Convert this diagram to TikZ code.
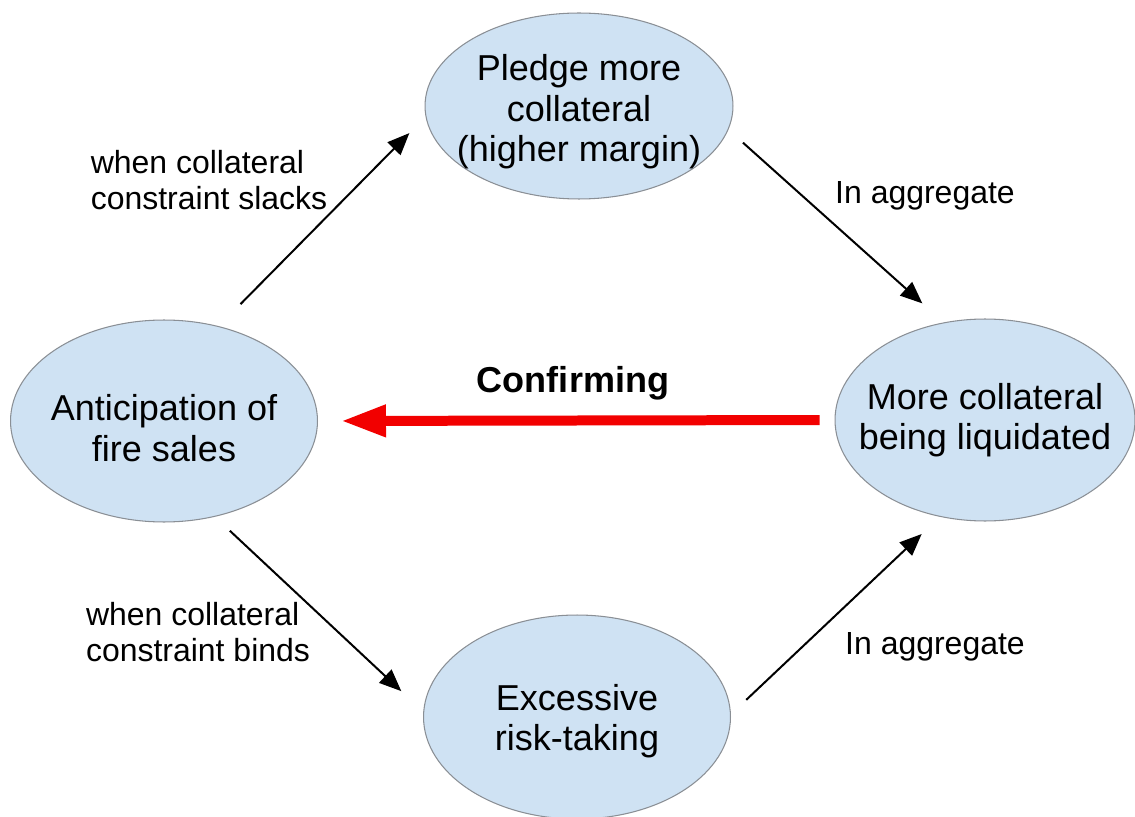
\documentclass[tikz,border=0pt]{standalone}
\usepackage{fontspec}
\setmainfont{Liberation Sans}
\usetikzlibrary{arrows.meta,shapes.geometric}
\definecolor{blobfill}{HTML}{CFE2F3}
\definecolor{blobline}{HTML}{8A8F95}
\definecolor{confred}{HTML}{F20000}

\begin{document}
\begin{tikzpicture}[x=0.02cm, y=-0.02cm,
    blob/.style={ellipse, draw=blobline, fill=blobfill, line width=0.6pt, inner sep=0pt},
    big/.style={font=\fontsize{20.5}{23}\selectfont, align=center},
    small/.style={font=\fontsize{18.2}{20.8}\selectfont, align=left},
    link/.style={-{Triangle[length=0.44cm, width=0.36cm]}, line width=0.04cm},
    conf/.style={-{Triangle[length=0.9cm, width=0.6cm]}, line width=0.2cm, draw=confred},
]
    \useasboundingbox (0, 0) rectangle (1135, 817);

    \node[blob, minimum width=6.16cm, minimum height=3.72cm] (0) at (579, 106) {};
    \node[blob, minimum width=6.14cm, minimum height=4.04cm] (1) at (164, 421) {};
    \node[blob, minimum width=6.0cm, minimum height=4.04cm] (2) at (985, 420) {};
    \node[blob, minimum width=6.14cm, minimum height=4.08cm] (3) at (577, 717) {};

    \node[big, yshift=-0.12cm] (4) at (0) {Pledge more\\collateral\\(higher margin)};
    \node[big, yshift=-0.14cm] (5) at (1) {Anticipation of\\fire sales};
    \node[big] (6) at (2) {More collateral\\being liquidated};
    \node[big, yshift=-0.08cm] (7) at (3) {Excessive\\risk-taking};

    \node[small] (8) at (209, 180) {when collateral\\constraint slacks};
    \node[small] (9) at (925, 196) {In aggregate};
    \node[small] (10) at (198, 632) {when collateral\\constraint binds};
    \node[small] (11) at (935, 647) {In aggregate};
    \node[big, font=\fontsize{20.5}{23}\selectfont\bfseries] (12) at (573, 383) {Confirming};

    \draw[link, shorten <=0.62cm, shorten >=0.46cm] (1.60) -- (0.184);
    \draw[link, shorten <=0.39cm, shorten >=0.57cm] (0.351) -- (2.113);
    \draw[link, shorten <=0.41cm, shorten >=0.6cm] (1.298) -- (3.178);
    \draw[link, shorten <=0.42cm, shorten >=0.5cm] (3.1) -- (2.245);
    \draw[conf, shorten <=0.3cm, shorten >=0.46cm] (2.west) -- (1.east);
\end{tikzpicture}
\end{document}
